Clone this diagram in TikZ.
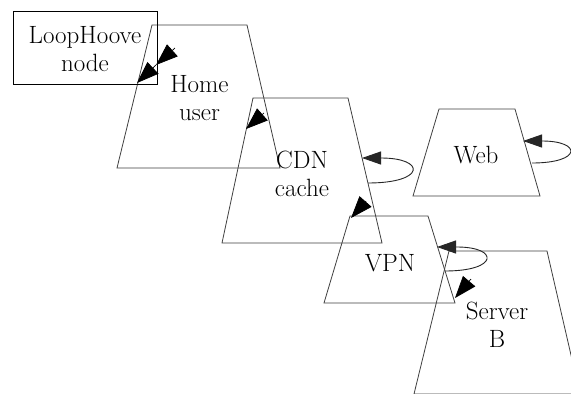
\documentclass[tikz,border=0pt]{standalone}
\usetikzlibrary{arrows.meta}
\begin{document}
\begin{tikzpicture}[x=1pt,y=-1pt,
  shapeline/.style={draw=black!75, line width=0.8pt, line join=miter},
  boxline/.style={draw=black, line width=1.4pt},
  lbl/.style={font=\rmfamily\fontsize{25}{28}\selectfont, align=center, inner sep=0pt, text=black},
  edgearrow/.style={draw=black, line width=0.7pt, -{Triangle[length=22pt,width=16pt]}},
  looparrow/.style={draw=black!85, line width=0.9pt, -{Triangle[length=19pt,width=13pt]}}
]
\useasboundingbox (0,0) rectangle (571,394);
\clip (0,0) rectangle (571,394);
\fill[white] (0,0) rectangle (571,394);

% trapezoid corners
\coordinate (hTL) at (152,25);  \coordinate (hTR) at (247,25);  \coordinate (hBR) at (280,168); \coordinate (hBL) at (117,168);
\coordinate (cTL) at (253,98);  \coordinate (cTR) at (348,98);  \coordinate (cBR) at (382,243); \coordinate (cBL) at (222,243);
\coordinate (wTL) at (439,109); \coordinate (wTR) at (515,109); \coordinate (wBR) at (540,196); \coordinate (wBL) at (413,196);
\coordinate (vTL) at (350,216); \coordinate (vTR) at (428,216); \coordinate (vBR) at (455,303); \coordinate (vBL) at (324,303);
\coordinate (sTL) at (449,251); \coordinate (sTR) at (547,251); \coordinate (sBR) at (580,394); \coordinate (sBL) at (414,394);

\draw[shapeline] (hTL) -- (hTR) -- (hBR) -- (hBL) -- cycle;
\draw[shapeline] (cTL) -- (cTR) -- (cBR) -- (cBL) -- cycle;
\draw[shapeline] (wTL) -- (wTR) -- (wBR) -- (wBL) -- cycle;
\draw[shapeline] (vTL) -- (vTR) -- (vBR) -- (vBL) -- cycle;
\draw[shapeline] (sTL) -- (sTR) -- (sBR) -- (sBL) -- cycle;

% LoopHoove box
\node[boxline, minimum width=144pt, minimum height=73pt, inner sep=0pt, anchor=north west] (loop) at (13,11) {};

% labels
\node[lbl] (looplbl) at (85,49) {LoopHoove\\node};
\node[lbl] (home) at (199.5,98.5) {Home\\user};
\node[lbl] (cdn) at (302,173.5) {CDN\\cache};
\node[lbl] (web) at (476,155) {Web};
\node[lbl] (vpn) at (390,263) {VPN};
\node[lbl] (server) at (497,324.5) {Server\\B};

% edge endpoints
\coordinate (e1s) at (175,48);  \coordinate (e1m) at (156,65); \coordinate (e1t) at (137,83);
\coordinate (e2s) at (264,113); \coordinate (e2t) at (246,129);
\coordinate (e3s) at (366,201); \coordinate (e3t) at (351,218);
\coordinate (e4s) at (471,279); \coordinate (e4t) at (455,298);

\draw[edgearrow] (e1s) -- (e1m);
\draw[edgearrow] (e1m) -- (e1t);
\draw[edgearrow] (e2s) -- (e2t);
\draw[edgearrow] (e3s) -- (e3t);
\draw[edgearrow] (e4s) -- (e4t);

% self loops
\coordinate (cl1) at (368,183); \coordinate (cl2) at (381,158); \coordinate (cl3) at (362,158);
\draw[looparrow] (cl1) .. controls (426,183) and (426,158) .. (cl2) -- (cl3);
\coordinate (wl1) at (532,163); \coordinate (wl2) at (542,141); \coordinate (wl3) at (523,141);
\draw[looparrow] (wl1) .. controls (582,163) and (582,141) .. (wl2) -- (wl3);
\coordinate (vl1) at (445,271); \coordinate (vl2) at (457,247); \coordinate (vl3) at (437,247);
\draw[looparrow] (vl1) .. controls (499,271) and (499,247) .. (vl2) -- (vl3);
\end{tikzpicture}
\end{document}
